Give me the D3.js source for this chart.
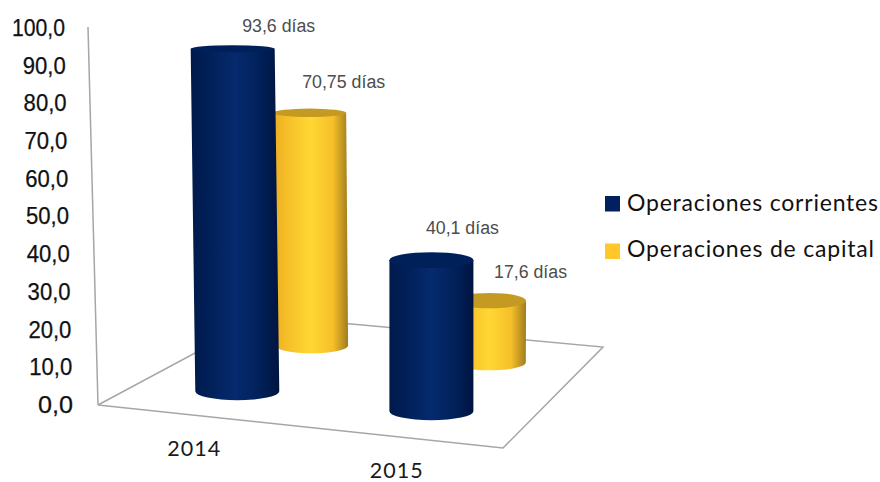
<!DOCTYPE html>
<html>
<head>
<meta charset="utf-8">
<script src="https://cdn.jsdelivr.net/npm/d3@7/dist/d3.min.js"></script>
<style>
  html, body { margin: 0; padding: 0; background: #fff; }
  svg { display: block; }
</style>
</head>
<body>
<div id="chart"></div>
<script>
const categories = ['2014', '2015']
const seriesNames = ['Operaciones corrientes', 'Operaciones de capital']
const corrientes = [93.6, 40.1]
const capital = [70.75, 17.6]
const valueLabels = [['93,6 días', '40,1 días'], ['70,75 días', '17,6 días']]
const tickValues = [0, 10, 20, 30, 40, 50, 60, 70, 80, 90, 100]

const width = 880
const height = 482

// floor corners of the fake 3d box
const A = [98, 405]
const B = [503, 448]
const C = [603, 347]
const D = [264, 316]

const floor = (u, v) => [0, 1].map(
  k => A[k] + u * (B[k] - A[k]) + v * (D[k] - A[k]) + u * v * (A[k] - B[k] + C[k] - D[k])
)

const u = d3.scaleBand().domain(categories).range([0, 1])
const v = d3.scaleBand().domain(seriesNames).range([0.006, 1])
const uCenter = c => u(c) + u.bandwidth() / 2
const vCenter = s => v(s) + v.bandwidth() / 2

// px per value unit changes with depth
const depthRange = seriesNames.map(vCenter)
const unitFront = d3.scaleLinear().domain([0.25, 0.75]).range([3.66, 3.77])
const unitBack = d3.scaleLinear().domain([0.25, 0.75]).range([3.29, 3.52])
const unitDepth = d3.scaleLinear().domain(depthRange).range([0, 1])
const unit = (uu, vv) => d3.interpolateNumber(unitFront(uu), unitBack(uu))(unitDepth(vv))

const radius = d3.scaleLinear().domain(depthRange).range([42, 36.5])
const flatness = d3.scaleLinear().domain([40, 300]).range([0.08, 0.21]).clamp(true)

// verticals lean towards a vanishing point
const lean = (x, h) => x + (x - 430) * 0.00007 * h

const svg = d3.select('#chart').append('svg').attr('width', width).attr('height', height)

const defs = svg.append('defs')
const gradients = [
  { id: 'grad-blue', stops: [[0, '#001a4a'], [0.2, '#002058'], [0.5, '#062a6e'], [0.8, '#002058'], [1, '#001440']] },
  { id: 'grad-yellow', stops: [[0, '#e8ad22'], [0.15, '#f5bc28'], [0.5, '#ffd733'], [0.8, '#f5bf2a'], [1, '#a07c1c']] },
]
gradients.forEach(g => {
  const lg = defs.append('linearGradient').attr('id', g.id)
  g.stops.forEach(s => lg.append('stop').attr('offset', s[0]).attr('stop-color', s[1]))
})
const topColors = ['#00205a', '#c49a22']
const legendColors = ['#002060', '#ffc729']

// floor and wall lines
svg.append('path')
  .attr('d', d3.line()([A, B, C, D, A]))
  .attr('fill', 'none')
  .attr('stroke', '#a6a6a6')
  .attr('stroke-width', 1.5)

const yAxisPos = d3.scaleLinear().domain([0, 100]).range([404, 27])
const yAxisX = d3.scaleLinear().domain([0, 100]).range([73, 65])

svg.append('line')
  .attr('x1', A[0]).attr('y1', A[1])
  .attr('x2', 88).attr('y2', yAxisPos(100))
  .attr('stroke', '#a6a6a6')
  .attr('stroke-width', 1.5)

// y axis labels
const axisG = svg.append('g')
  .call(d3.axisLeft(yAxisPos).tickValues(tickValues).tickSize(0).tickFormat(d => d3.format('.1f')(d).replace('.', ',')))
axisG.select('.domain').remove()
axisG.selectAll('.tick text')
  .attr('x', d => yAxisX(d))
  .attr('dy', '.36em')
  .attr('font-family', '"Liberation Sans", Arial, sans-serif')
  .attr('font-size', 23.5)
  .attr('fill', '#111')
  .attr('stroke', '#111')
  .attr('stroke-width', 0.25)
  .attr('text-anchor', 'end')
  .attr('textLength', d => (d === 100 ? 53 : d === 0 ? 35 : 43))
  .attr('lengthAdjust', 'spacingAndGlyphs')

// cylinders
const bars = []
seriesNames.forEach((s, si) => {
  const vals = si === 0 ? corrientes : capital
  categories.forEach((c, ci) => {
    const uu = uCenter(c)
    const vv = vCenter(s)
    const p = floor(uu, vv)
    const base = [p[0], p[1] - 1]
    const h = vals[ci] * unit(uu, vv)
    bars.push({ si, ci, base, h, rx: radius(vv), label: valueLabels[si][ci] })
  })
})
bars.sort((a, b) => a.base[1] - b.base[1])

const labelNudge = [[[46, -23], [31, -33]], [[34, -31], [41, -29]]]

const barG = svg.append('g').selectAll('g').data(bars).join('g')

barG.append('path')
  .attr('fill', d => (d.si === 0 ? 'url(#grad-blue)' : 'url(#grad-yellow)'))
  .attr('d', d => {
    const topY = d.base[1] - d.h
    const topX = lean(d.base[0], d.h)
    const ryB = d.rx * flatness(d.base[1])
    const p = d3.path()
    p.moveTo(d.base[0] - d.rx, d.base[1])
    p.lineTo(topX - d.rx, topY)
    p.lineTo(topX + d.rx, topY)
    p.lineTo(d.base[0] + d.rx, d.base[1])
    return p.toString() + `A${d.rx},${ryB} 0 0 1 ${d.base[0] - d.rx},${d.base[1]}Z`
  })

barG.append('ellipse')
  .attr('cx', d => lean(d.base[0], d.h))
  .attr('cy', d => d.base[1] - d.h)
  .attr('rx', d => d.rx)
  .attr('ry', d => d.rx * flatness(d.base[1] - d.h))
  .attr('fill', d => topColors[d.si])

// value labels
barG.append('text')
  .attr('x', d => lean(d.base[0], d.h) + labelNudge[d.si][d.ci][0])
  .attr('y', d => d.base[1] - d.h + labelNudge[d.si][d.ci][1])
  .attr('dy', '.36em')
  .attr('text-anchor', 'middle')
  .attr('font-family', '"Liberation Sans", Arial, sans-serif')
  .attr('font-size', 18)
  .attr('fill', '#4d4d4d')
  .attr('textLength', d => (d.label.length > 9 ? 83 : 73))
  .attr('lengthAdjust', 'spacingAndGlyphs')
  .text(d => d.label)

// category labels under the front edge
svg.append('g').selectAll('text').data(categories).join('text')
  .attr('x', c => floor(uCenter(c), 0)[0] - 5)
  .attr('y', c => floor(uCenter(c), 0)[1] + 33)
  .attr('dy', '.36em')
  .attr('text-anchor', 'middle')
  .attr('font-family', 'Lato, "Open Sans", sans-serif')
  .attr('font-size', 21.5)
  .attr('letter-spacing', 1)
  .attr('fill', '#1a1a1a')
  .text(c => c)

// legend
const legend = svg.append('g').selectAll('g').data(seriesNames).join('g')
  .attr('transform', (d, i) => `translate(605,${196 + i * 47.5})`)

legend.append('rect')
  .attr('width', 15)
  .attr('height', 15.5)
  .attr('fill', (d, i) => legendColors[i])

legend.append('text')
  .attr('x', 22)
  .attr('y', (d, i) => 15 - i * 1.5)
  .attr('font-family', 'Lato, "Open Sans", sans-serif')
  .attr('font-size', 23)
  .attr('fill', '#111')
  .attr('textLength', (d, i) => (i === 0 ? 251 : 247))
  .attr('lengthAdjust', 'spacing')
  .text(d => d)
</script>
</body>
</html>
